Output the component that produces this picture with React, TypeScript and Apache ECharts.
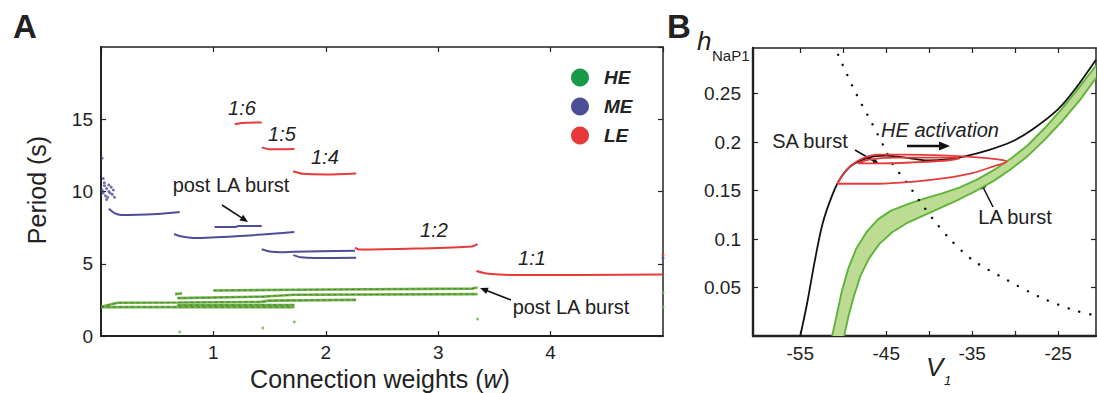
import React, { useEffect, useRef } from "react";
import * as echarts from "echarts";

const FONT = "'Liberation Sans', Arial, Helvetica, sans-serif";
const INK = "#222";
const GREEN_LINE = "#6db345";
const GREEN_CORE = "#2f3f24";
const BLUE = "#4e4e98";
const RED = "#e63a3a";
const LEG_GREEN = "#1a9a48";

// ---------- Panel A : period vs connection weight ----------
const weightTicks = [0, 1, 2, 3, 4, 5];
const periodTicks = [0, 5, 10, 15, 20];

const heSegments: number[][][] = [
  [[0, 2.0], [1.72, 2.0]],
  [[0, 2.02], [0.15, 2.3], [0.7, 2.32], [1.42, 2.36], [1.5, 2.45], [2.27, 2.5]],
  [[0.68, 2.12], [1.72, 2.15]],
  [[0.68, 2.62], [1.42, 2.72], [1.72, 2.85], [3.35, 2.9]],
  [[1.0, 3.15], [1.72, 3.2], [3.3, 3.28], [3.35, 3.35]],
  [[0.66, 2.9], [0.72, 2.95]],
];
const heDots = [[0.7, 0.28], [1.44, 0.55], [1.72, 0.97], [3.35, 1.18], [5, 3.0], [5, 2.0]];

const meSegments: number[][][] = [
  [[0.07, 8.8], [0.12, 8.5], [0.18, 8.37], [0.5, 8.45], [0.7, 8.58]],
  [[1.01, 7.55], [1.2, 7.55], [1.22, 7.62], [1.43, 7.62]],
  [[0.65, 7.06], [0.72, 6.88], [0.82, 6.78], [1.2, 6.9], [1.72, 7.2]],
  [[1.43, 6.0], [1.5, 5.85], [1.6, 5.8], [1.72, 5.83], [2.26, 5.9]],
  [[1.71, 5.6], [1.78, 5.45], [1.9, 5.4], [2.27, 5.42]],
];
const meDots = [
  [0.01, 12.3], [0.02, 10.9], [0.03, 10.4], [0.05, 10.2], [0.07, 10.0], [0.02, 9.9],
  [0.04, 9.7], [0.06, 9.6], [0.08, 9.9], [0.1, 9.8], [0.03, 10.6], [0.09, 10.3],
  [0.05, 9.45], [0.12, 9.6], [0.01, 10.1], [0.07, 10.45], [0.11, 10.1], [5, 5.4],
];

const leSegments: number[][][] = [
  [[1.19, 14.65], [1.25, 14.74], [1.43, 14.78]],
  [[1.43, 13.05], [1.5, 12.92], [1.72, 12.94]],
  [[1.71, 11.4], [1.8, 11.22], [2.0, 11.18], [2.27, 11.25]],
  [[2.26, 6.12], [2.3, 5.98], [2.8, 6.05], [3.3, 6.2], [3.35, 6.35]],
  [[3.34, 4.5], [3.45, 4.3], [3.7, 4.22], [5, 4.25]],
];
const leDots = [[5, 5.6]];

// ---------- Panel B : phase plane ----------
const vTicks = [-55, -50, -45, -40, -35, -30, -25];
const vLabels = [-55, -45, -35, -25];
const hTicks = [0.05, 0.1, 0.15, 0.2, 0.25];

const blackCurve = [
  [-55.0, 0], [-54.2, 0.034], [-53.3, 0.078], [-52.4, 0.116], [-51.2, 0.147], [-50.3, 0.163],
  [-49, 0.176], [-47, 0.184], [-45, 0.186], [-42, 0.183], [-40, 0.181], [-38, 0.182],
  [-36, 0.185], [-33, 0.192], [-30.5, 0.2], [-28, 0.213], [-25, 0.234], [-23, 0.255], [-20.6, 0.285],
];
const greenUpper = [
  [-51.3, 0], [-50.8, 0.02], [-50.2, 0.045], [-49.4, 0.07], [-48.5, 0.09], [-47.3, 0.107],
  [-46, 0.12], [-44.5, 0.129], [-42.5, 0.136], [-40.5, 0.142], [-38.5, 0.147], [-36.5, 0.153],
  [-34.5, 0.161], [-32.5, 0.171], [-30.5, 0.183], [-28.5, 0.197], [-26.5, 0.215], [-24.5, 0.235],
  [-22.5, 0.257], [-20.6, 0.279],
];
const greenLower = [
  [-49.9, 0], [-49.4, 0.02], [-48.8, 0.04], [-48.0, 0.062], [-47.0, 0.08], [-45.8, 0.095],
  [-44.3, 0.107], [-42.5, 0.117], [-40.5, 0.125], [-38.5, 0.133], [-36.5, 0.141], [-34.5, 0.15],
  [-32.5, 0.16], [-30.5, 0.172], [-28.5, 0.186], [-26.5, 0.203], [-24.5, 0.222], [-22.5, 0.243],
  [-20.6, 0.266],
];
const redOuter = [
  [-50.7, 0.157], [-50.1, 0.166], [-49.2, 0.175], [-47.8, 0.183], [-46, 0.187], [-43, 0.187],
  [-38, 0.186], [-34, 0.184], [-31.8, 0.182], [-31, 0.18], [-32.5, 0.175], [-35, 0.168],
  [-38, 0.163], [-42, 0.159], [-46, 0.157], [-50.7, 0.157],
];
const redInner = [
  [-48.3, 0.178], [-47, 0.182], [-44, 0.184], [-40, 0.184], [-37, 0.184], [-36.5, 0.183],
  [-38, 0.181], [-42, 0.179], [-46, 0.178], [-48.3, 0.178],
];
const dottedCurve = [
  [-50.6, 0.29], [-48.9, 0.257], [-47.8, 0.238], [-46.7, 0.22], [-45.2, 0.194], [-44.3, 0.178],
  [-42.6, 0.158], [-41.1, 0.139], [-39.5, 0.12], [-37.6, 0.1], [-34.9, 0.078], [-31, 0.058],
  [-27.1, 0.04], [-23.3, 0.027], [-20.6, 0.021],
];

function arrow(x1: number, y1: number, x2: number, y2: number, w: number, head: number) {
  const dx = x2 - x1, dy = y2 - y1;
  const len = Math.hypot(dx, dy);
  const ux = dx / len, uy = dy / len;
  const px = -uy, py = ux;
  const bx = x2 - ux * head, by = y2 - uy * head;
  return [
    { type: "line", silent: true, shape: { x1, y1, x2: bx + ux * 1, y2: by + uy * 1 }, style: { stroke: "#111", lineWidth: w } },
    {
      type: "polygon", silent: true,
      shape: { points: [[x2, y2], [bx + px * head * 0.42, by + py * head * 0.42], [bx - px * head * 0.42, by - py * head * 0.42]] },
      style: { fill: "#111" },
    },
  ];
}

function txt(x: number, y: number, text: string, size: number, opts: any = {}) {
  return {
    type: "text", silent: true, x, y, rotation: opts.rotation || 0,
    style: {
      text, fill: INK, fontFamily: FONT, fontSize: size,
      fontStyle: opts.italic ? "italic" : "normal", fontWeight: opts.bold ? "bold" : "normal",
      align: opts.align || "center", verticalAlign: "middle", rich: opts.rich,
    },
  };
}

export default function App() {
  const ref = useRef<HTMLDivElement>(null);
  useEffect(() => {
    const chart = echarts.init(ref.current!, undefined, { renderer: "svg" });

    const axisBase = {
      type: "value",
      splitLine: { show: false },
      axisLine: { show: true, onZero: false, lineStyle: { color: INK, width: 2 } },
      axisTick: { show: true, inside: true, length: 5, lineStyle: { color: INK, width: 1.2 } },
    };
    const lbl = { color: INK, fontFamily: FONT, fontSize: 19 };

    const series: any[] = [];
    heSegments.forEach((seg) => {
      series.push({ name: "HE", type: "line", xAxisIndex: 0, yAxisIndex: 0, data: seg, symbol: "none", lineStyle: { color: GREEN_LINE, width: 2.6 }, itemStyle: { color: GREEN_LINE }, z: 2 });
      series.push({ name: "HE", type: "line", xAxisIndex: 0, yAxisIndex: 0, data: seg, symbol: "none", lineStyle: { color: GREEN_CORE, width: 0.8, type: [3, 3], opacity: 0.6 }, itemStyle: { color: GREEN_LINE }, z: 3 });
    });
    series.push({ name: "HE", type: "scatter", xAxisIndex: 0, yAxisIndex: 0, data: heDots, symbolSize: 3, itemStyle: { color: GREEN_LINE } });
    meSegments.forEach((seg) => {
      series.push({ name: "ME", type: "line", xAxisIndex: 0, yAxisIndex: 0, data: seg, symbol: "none", smooth: 0.3, lineStyle: { color: BLUE, width: 2 }, itemStyle: { color: BLUE } });
    });
    series.push({ name: "ME", type: "scatter", xAxisIndex: 0, yAxisIndex: 0, data: meDots, symbolSize: 3, itemStyle: { color: BLUE } });
    leSegments.forEach((seg) => {
      series.push({ name: "LE", type: "line", xAxisIndex: 0, yAxisIndex: 0, data: seg, symbol: "none", smooth: 0.3, lineStyle: { color: RED, width: 2 }, itemStyle: { color: RED } });
    });
    series.push({ name: "LE", type: "scatter", xAxisIndex: 0, yAxisIndex: 0, data: leDots, symbolSize: 3, itemStyle: { color: RED } });

    // Panel B
    series.push({
      name: "HE band", type: "custom", xAxisIndex: 2, yAxisIndex: 2, data: greenUpper, clip: true, z: 1,
      renderItem: (params: any, api: any) => {
        if (params.dataIndex !== 0) return null;
        const pts = greenUpper.map((p) => api.coord(p)).concat(greenLower.slice().reverse().map((p) => api.coord(p)));
        return { type: "polygon", shape: { points: pts }, style: { fill: "#bcdc94", stroke: "none" } };
      },
    });
    series.push({ name: "HE band upper", type: "line", xAxisIndex: 2, yAxisIndex: 2, data: greenUpper, symbol: "none", lineStyle: { color: "#5fb33a", width: 1.9 }, z: 2 });
    series.push({ name: "HE band lower", type: "line", xAxisIndex: 2, yAxisIndex: 2, data: greenLower, symbol: "none", lineStyle: { color: "#5fb33a", width: 1.9 }, z: 2 });
    series.push({ name: "h nullcline", type: "line", xAxisIndex: 2, yAxisIndex: 2, data: blackCurve, symbol: "none", smooth: 0.3, lineStyle: { color: "#111", width: 1.8 }, z: 3 });
    series.push({ name: "V nullcline", type: "line", xAxisIndex: 2, yAxisIndex: 2, data: dottedCurve, symbol: "none", smooth: 0.3, lineStyle: { color: "#111", width: 2.4, type: [0.1, 11], cap: "round" }, z: 3 });
    series.push({ name: "LA loop", type: "line", xAxisIndex: 2, yAxisIndex: 2, data: redOuter, symbol: "none", smooth: 0.35, lineStyle: { color: RED, width: 1.8 }, z: 4 });
    series.push({ name: "SA loop", type: "line", xAxisIndex: 2, yAxisIndex: 2, data: redInner, symbol: "none", smooth: 0.35, lineStyle: { color: RED, width: 1.8 }, z: 4 });

    const graphic: any[] = [
      txt(25, 26, "A", 33, { bold: true }),
      txt(679, 26, "B", 33, { bold: true }),
      txt(37, 190, "Period (s)", 25, { rotation: Math.PI / 2 }),
      {
        type: "text", silent: true, x: 380, y: 379,
        style: {
          text: "Connection weights ({i|w})", fill: INK, fontFamily: FONT, fontSize: 25, align: "center", verticalAlign: "middle",
          rich: { i: { fontStyle: "italic", fontFamily: FONT, fontSize: 25, fill: INK } },
        },
      },
      txt(242, 108, "1:6", 20, { italic: true }),
      txt(282, 134, "1:5", 20, { italic: true }),
      txt(325, 157, "1:4", 20, { italic: true }),
      txt(434, 230, "1:2", 20, { italic: true }),
      txt(532, 258, "1:1", 20, { italic: true }),
      txt(231, 185, "post LA burst", 20),
      txt(571, 307, "post LA burst", 20),
      ...arrow(222, 205, 248, 222, 1.5, 8),
      ...arrow(511, 300, 480, 288, 1.5, 8),
      txt(697, 41, "h", 26, { italic: true, align: "left" }),
      txt(712, 55, "NaP1", 15, { align: "left" }),
      txt(926, 367, "V", 26, { italic: true, align: "left" }),
      txt(944, 380, "1", 13, { italic: true, align: "left" }),
      txt(810, 141, "SA burst", 20),
      txt(940, 130, "HE activation", 20, { italic: true }),
      txt(1015, 217, "LA burst", 20),
      ...arrow(907, 146, 950, 146, 2.6, 11),
      ...arrow(855, 150, 879, 164, 1.5, 6),
      ...arrow(993, 207, 980, 181, 1.5, 8),
    ];

    chart.setOption({
      animation: false,
      backgroundColor: "#fff",
      textStyle: { fontFamily: FONT },
      grid: [
        { left: 101, top: 47, width: 562, height: 289 },
        { left: 753, top: 48, width: 343, height: 288 },
      ],
      legend: {
        orient: "vertical", left: 571, top: 68, itemWidth: 18, itemHeight: 18, itemGap: 10, icon: "circle",
        selectedMode: false, padding: 0,
        textStyle: { fontSize: 19, fontWeight: "bold", fontStyle: "italic", color: INK, fontFamily: FONT, padding: [0, 0, 0, 10] },
        data: [
          { name: "HE", icon: "circle", itemStyle: { color: LEG_GREEN } },
          { name: "ME", icon: "circle", itemStyle: { color: BLUE } },
          { name: "LE", icon: "circle", itemStyle: { color: RED } },
        ],
      },
      xAxis: [
        { ...axisBase, gridIndex: 0, position: "bottom", min: weightTicks[0], max: weightTicks[weightTicks.length - 1], interval: 1,
          axisLabel: { ...lbl, margin: 7, showMinLabel: false, showMaxLabel: false } },
        { ...axisBase, gridIndex: 0, position: "top", min: weightTicks[0], max: weightTicks[weightTicks.length - 1], interval: 1,
          axisLine: { show: true, onZero: false, lineStyle: { color: INK, width: 1.5 } }, axisLabel: { show: false } },
        { ...axisBase, gridIndex: 1, position: "bottom", min: -60.5, max: -20.6,
          axisLine: { show: true, onZero: false, lineStyle: { color: INK, width: 2.4 } },
          axisTick: { show: true, inside: true, length: 5, customValues: vTicks, lineStyle: { color: INK, width: 1.2 } },
          axisLabel: { ...lbl, margin: 8, customValues: vLabels } },
        { ...axisBase, gridIndex: 1, position: "top", min: -60.5, max: -20.6,
          axisLine: { show: true, onZero: false, lineStyle: { color: INK, width: 1.5 } },
          axisTick: { show: true, inside: true, length: 5, customValues: vTicks, lineStyle: { color: INK, width: 1.2 } },
          axisLabel: { show: false } },
      ],
      yAxis: [
        { ...axisBase, gridIndex: 0, position: "left", min: periodTicks[0], max: periodTicks[periodTicks.length - 1], interval: 5,
          axisLabel: { ...lbl, margin: 8, showMaxLabel: false } },
        { ...axisBase, gridIndex: 0, position: "right", min: periodTicks[0], max: periodTicks[periodTicks.length - 1], interval: 5,
          axisLine: { show: true, onZero: false, lineStyle: { color: INK, width: 1.5 } }, axisLabel: { show: false } },
        { ...axisBase, gridIndex: 1, position: "left", min: 0, max: 0.297,
          axisLine: { show: true, onZero: false, lineStyle: { color: INK, width: 2.4 } },
          axisTick: { show: true, inside: true, length: 5, customValues: hTicks, lineStyle: { color: INK, width: 1.2 } },
          axisLabel: { ...lbl, margin: 12, customValues: hTicks } },
        { ...axisBase, gridIndex: 1, position: "right", min: 0, max: 0.297,
          axisLine: { show: true, onZero: false, lineStyle: { color: INK, width: 1.5 } },
          axisTick: { show: true, inside: true, length: 5, customValues: hTicks, lineStyle: { color: INK, width: 1.2 } },
          axisLabel: { show: false } },
      ],
      series,
      graphic,
    });
    return () => chart.dispose();
  }, []);
  return (
    <div
      ref={ref}
      style={{ position: "fixed", left: 0, top: 0, width: 1097, height: 393, background: "#fff" }}
    />
  );
}
